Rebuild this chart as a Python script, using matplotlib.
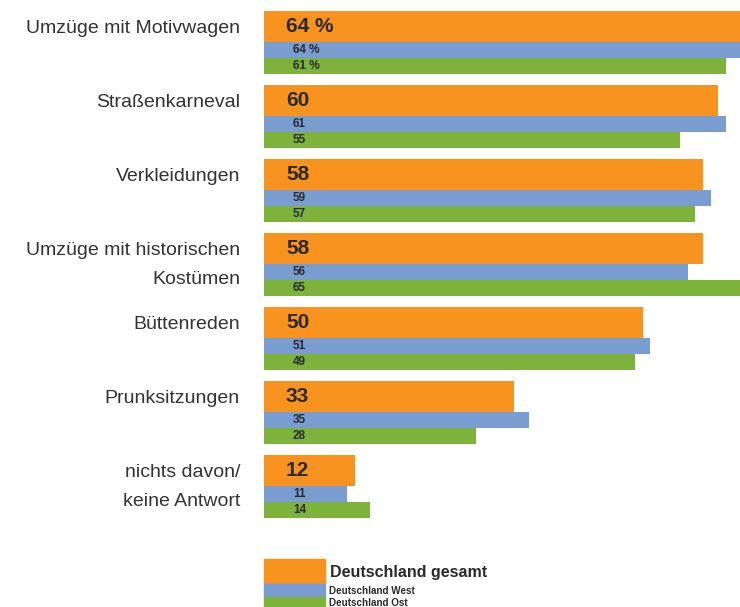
import matplotlib
matplotlib.use("Agg")
import matplotlib.pyplot as plt
from matplotlib.patches import Rectangle

plt.rcParams['font.family'] = ['Liberation Sans', 'DejaVu Sans']

categories = ['Umzüge mit Motivwagen', 'Straßenkarneval', 'Verkleidungen',
              'Umzüge mit historischen\nKostümen', 'Büttenreden', 'Prunksitzungen',
              'nichts davon/\nkeine Antwort']
gesamt = [64, 60, 58, 58, 50, 33, 12]
west = [64, 61, 59, 56, 51, 35, 11]
ost = [61, 55, 57, 65, 49, 28, 14]
series_names = ['Deutschland gesamt', 'Deutschland West', 'Deutschland Ost']

c_orange = '#F7931E'
c_blue = '#7A9DD1'
c_green = '#7DB33A'
txt = '#2a2a2a'

W, H = 740, 607
fig = plt.figure(figsize=(W / 100, H / 100), dpi=100)
ax = fig.add_axes([264 / W, 0, 476 / W, 1])

h_o, h_b, h_g = 31 / 74, 16 / 74, 16 / 74
pos = list(range(len(categories)))

ax.barh([p + h_o / 2 for p in pos], gesamt, height=h_o, color=c_orange)
ax.barh([p + h_o + h_b / 2 for p in pos], west, height=h_b, color=c_blue)
ax.barh([p + h_o + h_b + h_g / 2 for p in pos], ost, height=h_g, color=c_green)

for i, p in enumerate(pos):
    suf = ' %' if i == 0 else ''
    ax.annotate(f'{gesamt[i]}{suf}', xy=(0, p + h_o / 2), xytext=(22, 0),
                textcoords='offset pixels', ha='left', va='center',
                fontsize=15, fontweight='bold', color=txt)
    ax.annotate(f'{west[i]}{suf}', xy=(0, p + h_o + h_b / 2), xytext=(29, 0),
                textcoords='offset pixels', ha='left', va='center',
                fontsize=8.5, fontweight='bold', color=txt)
    ax.annotate(f'{ost[i]}{suf}', xy=(0, p + h_o + h_b + h_g / 2), xytext=(29, 0),
                textcoords='offset pixels', ha='left', va='center',
                fontsize=8.5, fontweight='bold', color=txt)
    ax.annotate(categories[i], xy=(0, p), xytext=(-24, -9),
                textcoords='offset pixels', ha='right', va='top',
                fontsize=14, color='#333333', linespacing=1.93,
                annotation_clip=False)

ax.set_xlim(0, 476 / 7.57)
ax.set_ylim((H - 11) / 74, -11 / 74)
ax.axis('off')

# legend block
fig.patches.append(Rectangle((264 / W, 1 - 584 / H), 61 / W, 25 / H,
                             transform=fig.transFigure, color=c_orange))
fig.patches.append(Rectangle((264 / W, 1 - 597 / H), 61 / W, 13 / H,
                             transform=fig.transFigure, color=c_blue))
fig.patches.append(Rectangle((264 / W, 0), 61 / W, 10 / H,
                             transform=fig.transFigure, color=c_green))
fig.text(330 / W, 1 - 572 / H, series_names[0], fontsize=11.5, fontweight='bold',
         color=txt, va='center', ha='left')
fig.text(329 / W, 1 - 591 / H, series_names[1], fontsize=7.1, fontweight='bold',
         color=txt, va='center', ha='left')
fig.text(329 / W, 1 - 603 / H, series_names[2], fontsize=7.1, fontweight='bold',
         color=txt, va='center', ha='left')

fig.savefig('out.png', dpi=100)
